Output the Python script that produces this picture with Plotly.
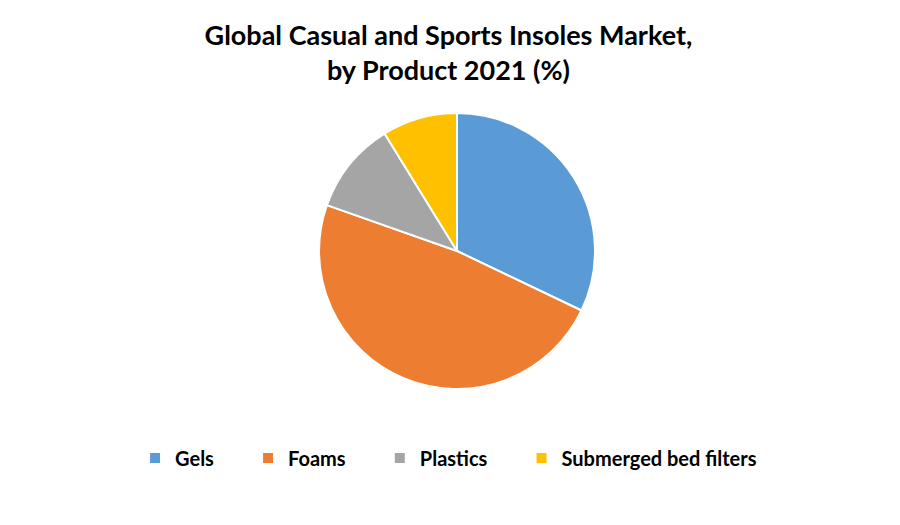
import plotly.graph_objects as go

categories = ["Gels", "Foams", "Plastics", "Submerged bed filters"]
values = [32.1, 48.3, 10.8, 8.8]
colors = ["#5B9BD5", "#ED7D31", "#A5A5A5", "#FFC000"]

# pad legend entries (non-breaking spaces) to mimic the wider legend spacing
pad = "\u00a0" * 6
labels = [c + pad for c in categories[:-1]] + [categories[-1]]

fig = go.Figure(go.Pie(
    labels=labels,
    values=values,
    sort=False,
    direction="clockwise",
    rotation=0,
    marker=dict(colors=colors, line=dict(color="white", width=2)),
    textinfo="none",
    hoverinfo="label+percent",
    domain=dict(x=[0.3456, 0.6522], y=[0.2743, 0.8]),
))

fig.update_layout(
    width=900, height=525,
    paper_bgcolor="white", plot_bgcolor="white",
    margin=dict(l=0, r=0, t=0, b=0),
    title=dict(
        text="<b>Global Casual and Sports Insoles Market,<br>by Product 2021 (%)</b>",
        x=0.4894, xanchor="center", y=1 - 37 / 525, yanchor="middle",
        font=dict(family="Lato, Carlito, sans-serif", size=27, color="black"),
    ),
    legend=dict(
        orientation="h", x=0.4895, xanchor="center", y=1 - 450 / 525, yanchor="middle",
        font=dict(family="Lato, Carlito, sans-serif", size=20, color="black", weight="bold"),
        itemwidth=30,
    ),
)

fig.write_html("out.html")
